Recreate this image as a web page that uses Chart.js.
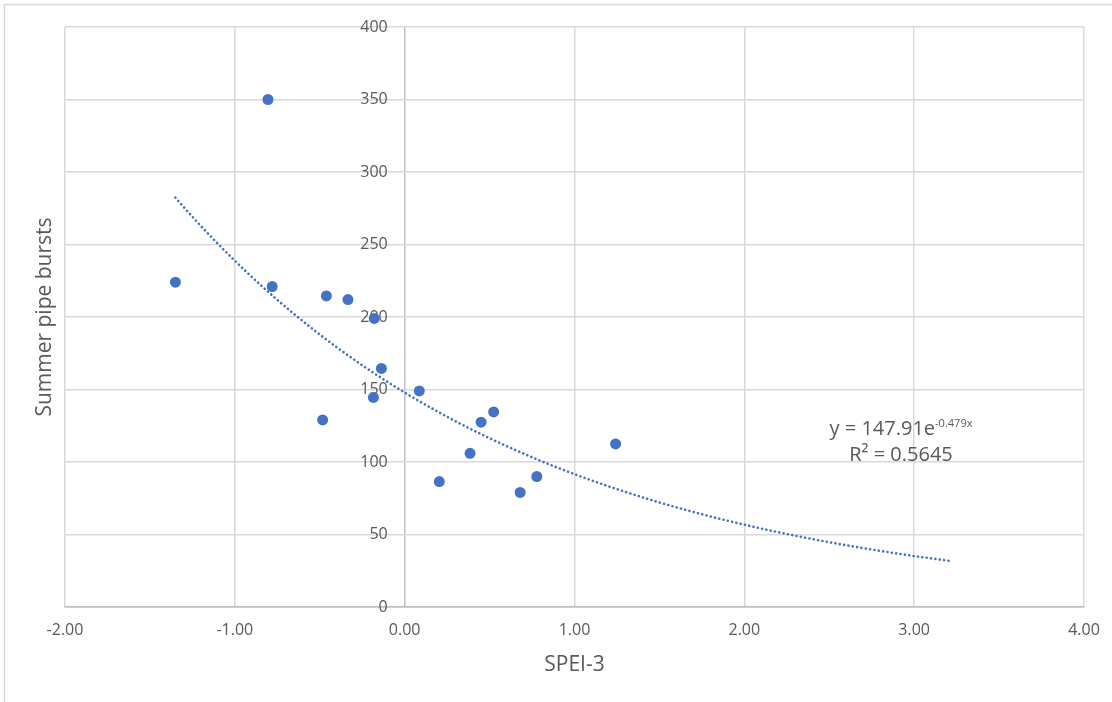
<!DOCTYPE html>
<html>
<head>
<meta charset="utf-8">
<title>Summer pipe bursts vs SPEI-3</title>
<script src="https://cdn.jsdelivr.net/npm/chart.js@4.4.1/dist/chart.umd.min.js"></script>
<style>
    html, body { margin: 0; padding: 0; background: #ffffff; }
    canvas { display: block; }
</style>
</head>
<body>
<canvas id="bursts-chart" width="1112" height="702"></canvas>
<script>
// SPEI-3 values and matching summer pipe bursts
const speiValues = [-1.35, -0.805, -0.78, -0.461, -0.334, -0.179, -0.137, -0.184, -0.483,
    0.086, 0.204, 0.385, 0.45, 0.524, 0.68, 0.778, 1.242];
const burstCounts = [224, 350, 221, 214.5, 212, 199, 164.5, 144.5, 129,
    149, 86.5, 106, 127.5, 134.5, 79, 90, 112.5];

// exponential trendline as printed on the chart: y = 147.91e^(-0.479x)
const trendA = 147.91;
const trendB = -0.479;
const trendRange = [-1.35, 3.22];
const trendLabel = ['y = 147.91e', '-0.479x', 'R² = 0.5645'];

const xTicks = { min: -2, max: 4, step: 1 };
const yTicks = { min: 0, max: 400, step: 50 };

(() => {
    const font = "'Open Sans', 'DejaVu Sans', sans-serif";
    const textColor = '#595959';
    const gridColor = '#d9d9d9';
    const axisColor = '#bfbfbf';
    const markColor = '#4472C4';

    const trendPoints = [];
    for (let x = trendRange[0]; x <= trendRange[1] + 1e-9; x += 0.02) {
        trendPoints.push({ x, y: trendA * Math.exp(trendB * x) });
    }

    const decorations = {
        id: 'decorations',
        beforeDraw: (chart) => {
            const { ctx } = chart;
            ctx.save();
            ctx.strokeStyle = gridColor;
            ctx.lineWidth = 1.5;
            ctx.beginPath();
            ctx.moveTo(4.5, chart.height);
            ctx.lineTo(4.5, 4.5);
            ctx.lineTo(chart.width, 4.5);
            ctx.stroke();
            ctx.restore();
        },
        afterDraw: (chart) => {
            const { ctx, chartArea } = chart;
            ctx.save();
            ctx.fillStyle = textColor;

            // y axis title
            ctx.translate(45, (chartArea.top + chartArea.bottom) / 2);
            ctx.rotate(-Math.PI / 2);
            ctx.font = `21px ${font}`;
            ctx.textAlign = 'center';
            ctx.textBaseline = 'middle';
            ctx.fillText('Summer pipe bursts', 0, 0);
            ctx.setTransform(1, 0, 0, 1, 0, 0);

            // trendline equation
            const cx = 901;
            ctx.textBaseline = 'alphabetic';
            ctx.font = `20px ${font}`;
            const mainWidth = ctx.measureText(trendLabel[0]).width;
            ctx.font = `11px ${font}`;
            const supWidth = ctx.measureText(trendLabel[1]).width;
            const startX = cx - (mainWidth + supWidth) / 2;
            ctx.textAlign = 'left';
            ctx.font = `20px ${font}`;
            ctx.fillText(trendLabel[0], startX, 435);
            ctx.font = `11px ${font}`;
            ctx.fillText(trendLabel[1], startX + mainWidth, 427);
            ctx.font = `20px ${font}`;
            ctx.textAlign = 'center';
            ctx.fillText(trendLabel[2], cx, 461);
            ctx.restore();
        },
    };

    new Chart(document.getElementById('bursts-chart'), {
        type: 'scatter',
        data: {
            datasets: [
                {
                    type: 'line',
                    label: 'Expon. trend',
                    data: trendPoints,
                    borderColor: markColor,
                    borderWidth: 2.6,
                    borderDash: [0.1, 4.3],
                    borderCapStyle: 'round',
                    pointRadius: 0,
                    fill: false,
                    tension: 0,
                    order: 0,
                },
                {
                    label: 'Summer pipe bursts',
                    data: speiValues.map((x, i) => ({ x, y: burstCounts[i] })),
                    backgroundColor: markColor,
                    borderWidth: 0,
                    pointRadius: 5.5,
                    order: 1,
                },
            ],
        },
        options: {
            responsive: false,
            animation: false,
            devicePixelRatio: 1,
            layout: { padding: { left: 65, right: 28, top: 27, bottom: 0 } },
            plugins: {
                legend: { display: false },
                tooltip: { enabled: false },
            },
            scales: {
                x: {
                    type: 'linear',
                    min: xTicks.min,
                    max: xTicks.max,
                    afterFit: (scale) => {
                        scale.height = 95;
                        scale.paddingLeft = 0;
                        scale.paddingRight = 0;
                    },
                    ticks: {
                        stepSize: xTicks.step,
                        padding: 14,
                        color: textColor,
                        font: { family: font, size: 16 },
                        callback: (value) => Number(value).toFixed(2),
                    },
                    grid: {
                        drawTicks: false,
                        lineWidth: 1.5,
                        color: (c) => (c.tick && c.tick.value === 0 ? axisColor : gridColor),
                    },
                    border: { display: true, color: axisColor, width: 1.5 },
                    title: {
                        display: true,
                        text: 'SPEI-3',
                        color: textColor,
                        font: { family: font, size: 21 },
                        padding: { top: 0, bottom: 24 },
                    },
                },
                y: {
                    type: 'linear',
                    min: yTicks.min,
                    max: yTicks.max,
                    position: { x: -0.1 },
                    ticks: {
                        stepSize: yTicks.step,
                        color: textColor,
                        font: { family: font, size: 16 },
                    },
                    grid: {
                        drawTicks: false,
                        lineWidth: 1.5,
                        color: (c) => (c.tick && c.tick.value === 0 ? axisColor : gridColor),
                    },
                    border: { display: false },
                },
            },
        },
        plugins: [decorations],
    });
})();
</script>
</body>
</html>
